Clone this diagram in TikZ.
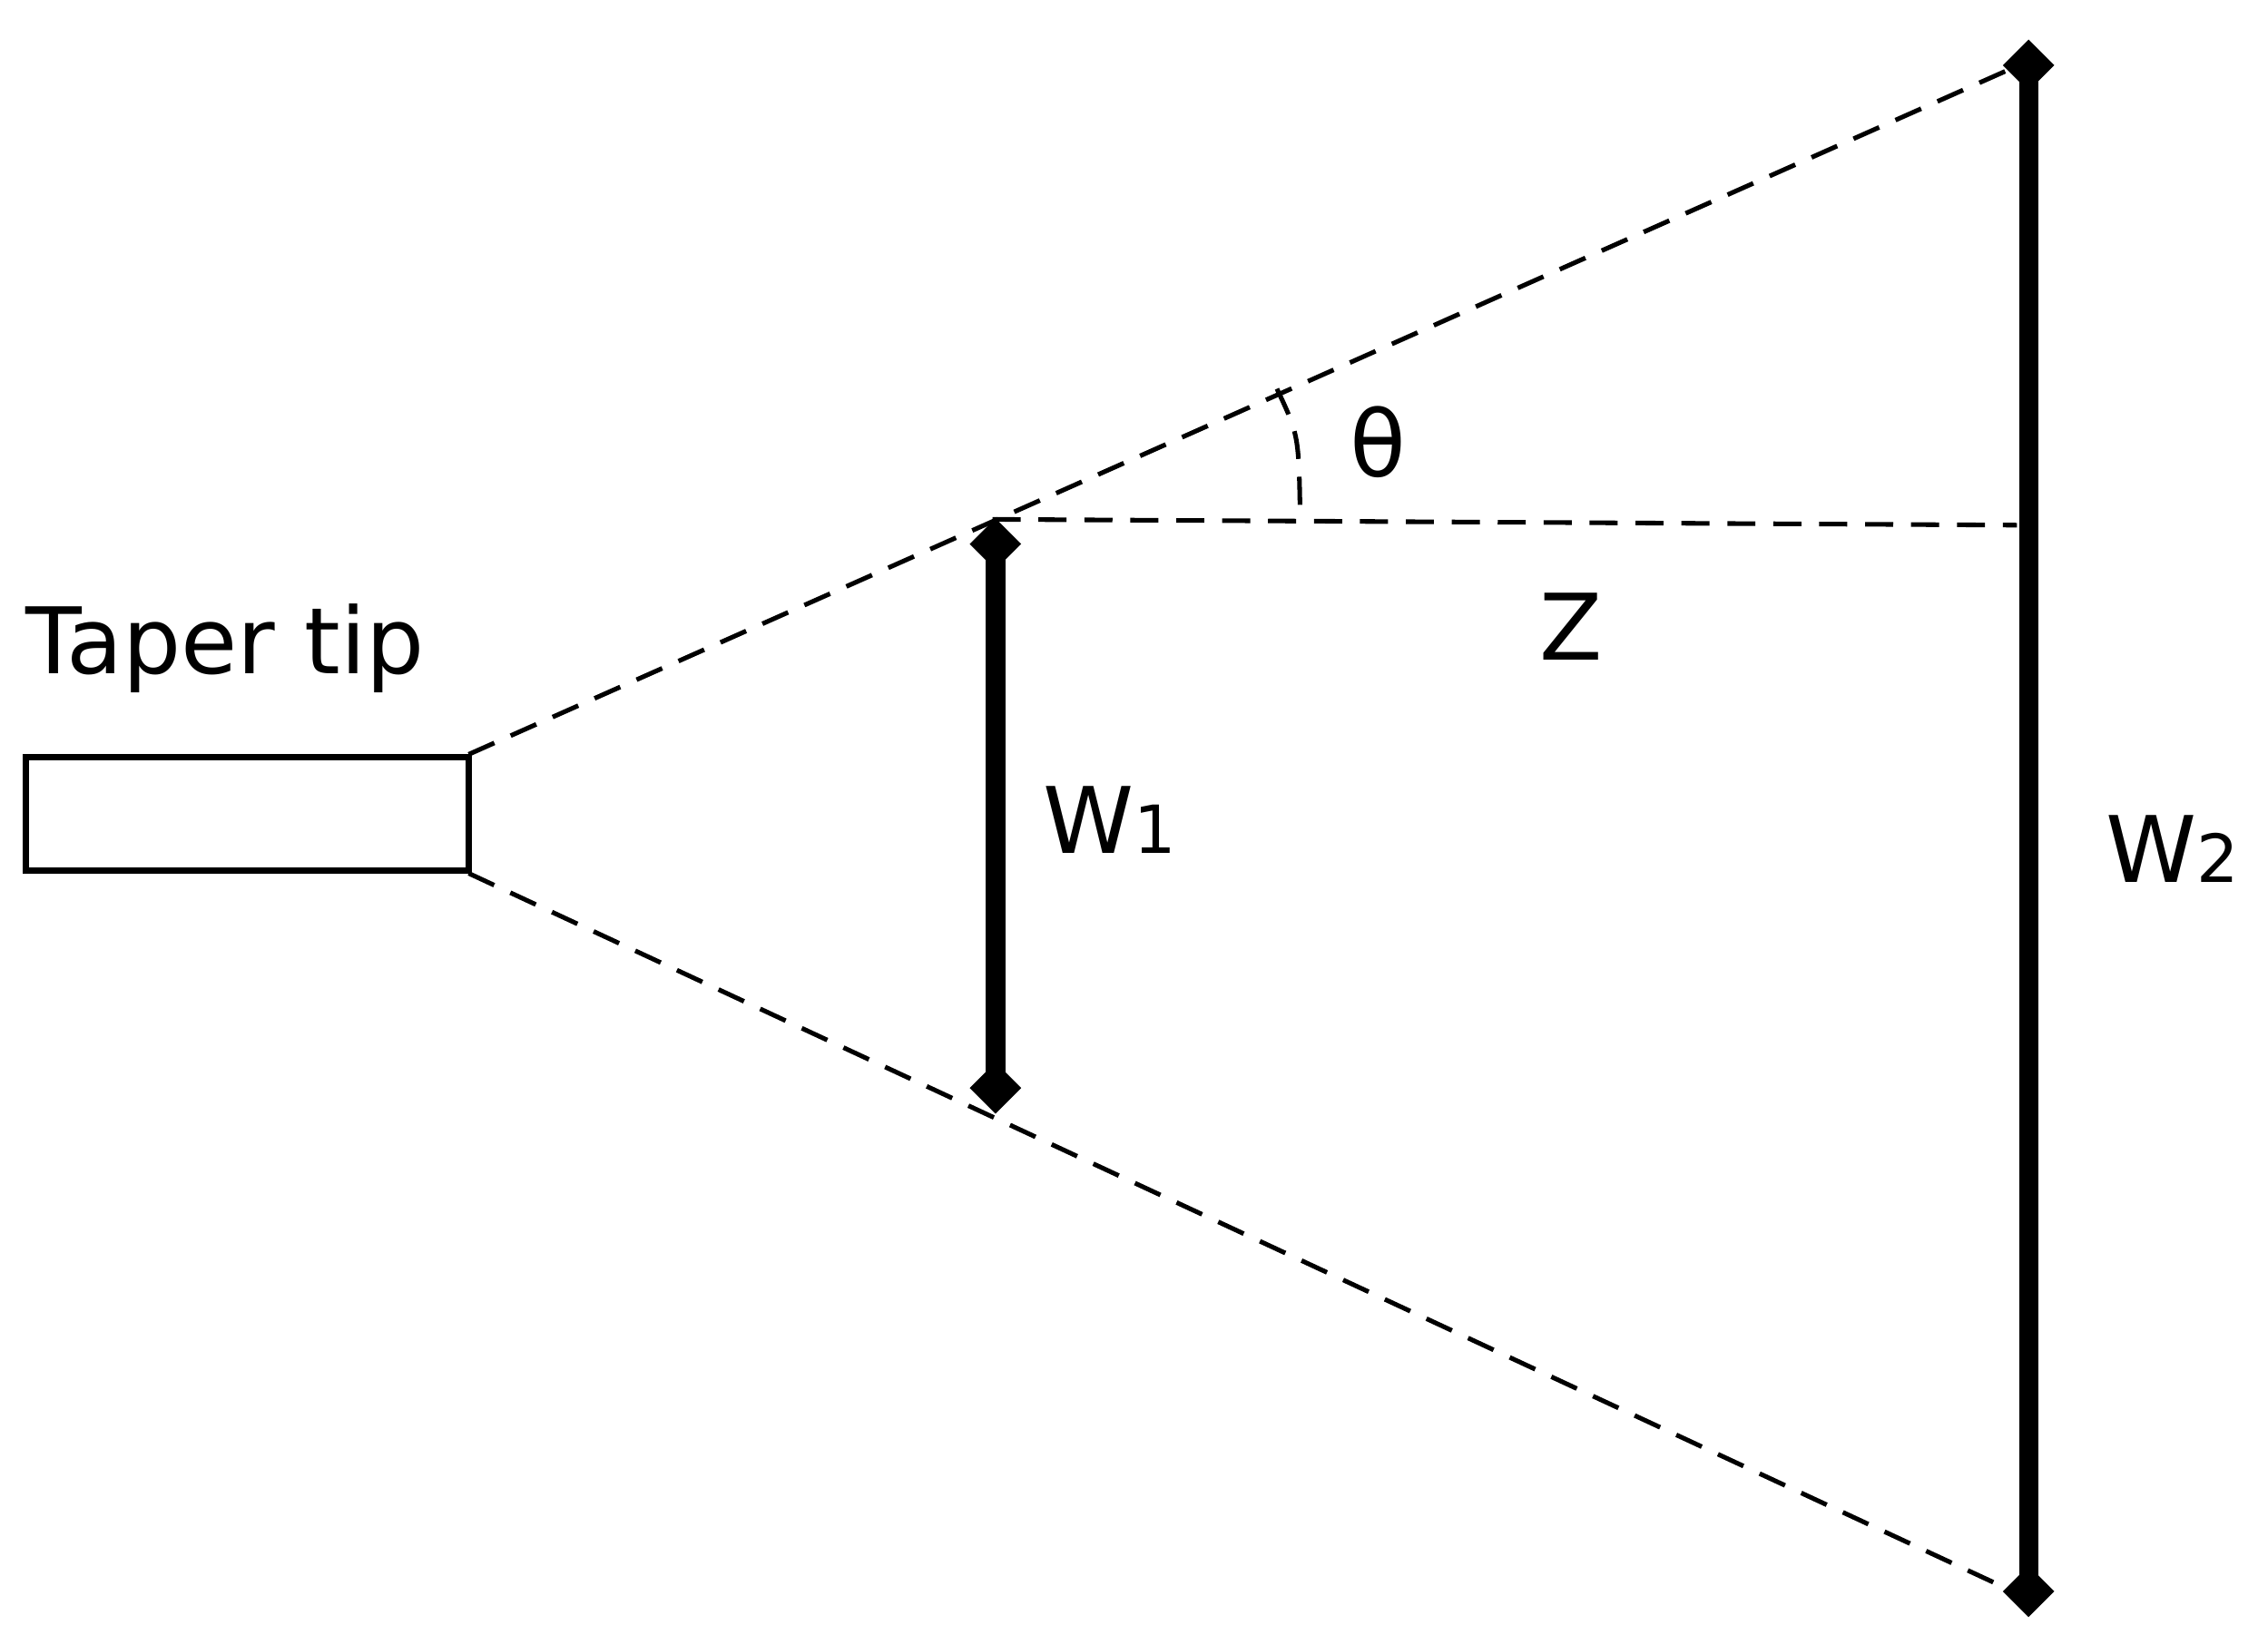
\documentclass[tikz,border=0pt]{standalone}
\usepackage{fontspec}
\setmainfont{DejaVu Sans}
\usetikzlibrary{shapes.geometric}
\newcommand{\smallsub}[1]{{\fontsize{13}{15}\selectfont #1}}
\begin{document}
\begin{tikzpicture}[x=0.01cm,y=-0.01cm,
  dsh/.style={line width=0.9pt,dash pattern=on 5.5pt off 3.5pt},
  bar/.style={line width=3.8pt},
  dia/.style={diamond,fill=black,inner sep=0pt,minimum width=0.36cm,minimum height=0.36cm},
  lab/.style={font=\fontsize{18}{21}\selectfont,inner sep=0pt}]
\useasboundingbox (0,0) rectangle (1563,1127);
\draw[line width=1.3pt] (18,522) rectangle (323,600);
\coordinate (tu) at (323,520);
\coordinate (tl) at (323,602);
\coordinate (h0) at (684,358);
\coordinate (h1) at (1390,362);
\coordinate (e1) at (1398,42);
\coordinate (e2) at (1398,1102);
\coordinate (r1) at (880,268);
\coordinate (r2) at (896,355);
\draw[dsh] (tu) -- (e1);
\draw[dsh] (tl) -- (e2);
\draw[dsh] (h0) -- (h1);
\draw[dsh] (r1) .. controls (895,300) .. (r2);
\node[dia] (a1) at (686,375) {};
\node[dia] (b1) at (686,750) {};
\node[dia] (a2) at (1398,45) {};
\node[dia] (b2) at (1398,1097) {};
\draw[bar] (a1.center) -- (b1.center);
\draw[bar] (a2.center) -- (b2.center);
\node[lab] (th) at (950,305) {θ};
\node[lab] (z) at (1083,432) {Z};
\node[lab] (tt) at (155,447) {Taper tip};
\node[lab] (w1) at (765,565) {W\smallsub{1}};
\node[lab] (w2) at (1497,585) {W\smallsub{2}};
\end{tikzpicture}
\end{document}
